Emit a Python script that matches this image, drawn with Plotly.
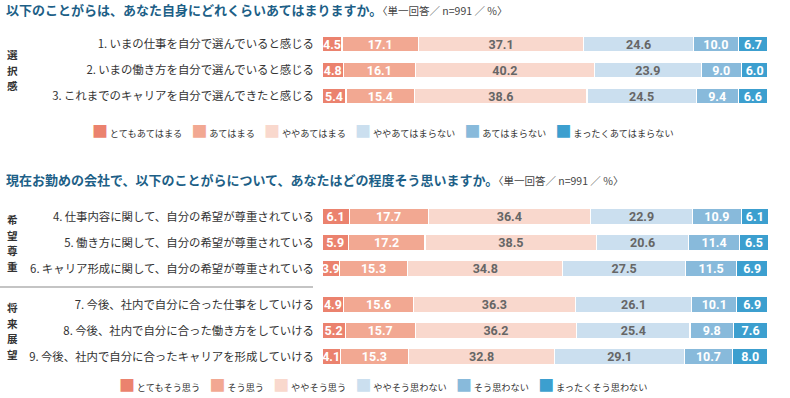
import plotly.graph_objects as go

W, H = 790, 398

# ---------------- data ----------------
q1_labels = [
    "1.\u2009いまの仕事を自分で選んでいると感じる",
    "2.\u2009いまの働き方を自分で選んでいると感じる",
    "3.\u2009これまでのキャリアを自分で選んできたと感じる",
]
q2_labels = [
    "4.\u2009仕事内容に関して、自分の希望が尊重されている",
    "5.\u2009働き方に関して、自分の希望が尊重されている",
    "6.\u2009キャリア形成に関して、自分の希望が尊重されている",
]
q3_labels = [
    "7.\u2009今後、社内で自分に合った仕事をしていける",
    "8.\u2009今後、社内で自分に合った働き方をしていける",
    "9.\u2009今後、社内で自分に合ったキャリアを形成していける",
]

legend1_names = ["とてもあてはまる", "あてはまる", "ややあてはまる",
                 "ややあてはまらない", "あてはまらない", "まったくあてはまらない"]
legend2_names = ["とてもそう思う", "そう思う", "ややそう思う",
                 "ややそう思わない", "そう思わない", "まったくそう思わない"]

# values per response category (rows in order of labels)
q1_values = [
    [4.5, 4.8, 5.4],
    [17.1, 16.1, 15.4],
    [37.1, 40.2, 38.6],
    [24.6, 23.9, 24.5],
    [10.0, 9.0, 9.4],
    [6.7, 6.0, 6.6],
]
q2_values = [
    [6.1, 5.9, 3.9],
    [17.7, 17.2, 15.3],
    [36.4, 38.5, 34.8],
    [22.9, 20.6, 27.5],
    [10.9, 11.4, 11.5],
    [6.1, 6.5, 6.9],
]
q3_values = [
    [4.9, 5.2, 4.1],
    [15.6, 15.7, 15.3],
    [36.3, 36.2, 32.8],
    [26.1, 25.4, 29.1],
    [10.1, 9.8, 10.7],
    [6.9, 7.6, 8.0],
]

group_labels = ["選択感", "希望尊重", "将来展望"]

title1 = "以下のことがらは、あなた自身にどれくらいあてはまりますか。"
title2 = "現在お勤めの会社で、以下のことがらについて、あなたはどの程度そう思いますか。"
subtitle = "〈単一回答／ n=991 ／ %〉"

# ---------------- style ----------------
colors = ["#EB826E", "#F2A892", "#F9D8CD", "#CBDFEF", "#88BADB", "#3C9FCF"]
text_colors = ["white", "white", "#666666", "#666666", "white", "white"]
JP = "Noto Sans CJK JP"
NUM = "Roboto"

fig = go.Figure()

groups = [
    (q1_labels, q1_values, "y", legend1_names),
    (q2_labels, q2_values, "y2", legend2_names),
    (q3_labels, q3_values, "y3", legend2_names),
]

for labels, values, yax, names in groups:
    for i, vals in enumerate(values):
        fig.add_trace(go.Bar(
            x=vals, y=labels, orientation="h",
            name=names[i],
            xaxis="x", yaxis=yax,
            marker=dict(color=colors[i], line=dict(color="white", width=1.2)),
            texttemplate="%{x:.1f}",
            textposition="inside",
            insidetextanchor="middle",
            constraintext="none",
            textangle=0,
            textfont=dict(family=NUM, size=12.5, color=text_colors[i], weight="bold"),
            showlegend=False,
            hoverinfo="skip",
        ))

def ydom(top_px, bot_px):
    return [1 - bot_px / H, 1 - top_px / H]

yax_common = dict(
    type="category", autorange="reversed", showgrid=False, zeroline=False,
    showline=False, ticks="", ticklabelstandoff=7, automargin=False,
    tickfont=dict(family=JP, size=11.4, color="#333333"),
    anchor="x",
)

fig.update_layout(
    width=W, height=H,
    margin=dict(l=0, r=0, t=0, b=0, autoexpand=False),
    paper_bgcolor="white", plot_bgcolor="white",
    barmode="stack", bargap=0.38,
    font=dict(family=JP, color="#333333"),
    xaxis=dict(domain=[322 / W, 768 / W], range=[0, 100], visible=False,
               fixedrange=True, anchor="y", automargin=False),
    yaxis=dict(domain=ydom(31, 109), **yax_common),
    yaxis2=dict(domain=ydom(203.5, 282), **yax_common),
    yaxis3=dict(domain=ydom(291.5, 370), **yax_common),
    showlegend=False,
)

# titles
sub_span = "<span style='font-size:10.5px;color:#444444;font-weight:normal'>" + subtitle + "</span>"
for t, ypx in [(title1, 9), (title2, 180)]:
    fig.add_annotation(
        text="<b>" + t + "</b>" + sub_span,
        xref="paper", yref="paper", x=4 / W, y=1 - ypx / H,
        xanchor="left", yanchor="middle", showarrow=False,
        font=dict(family=JP, size=13, color="#1D5F87"),
    )

# vertical group labels, one character per line
STEP = 15.5
for lab, yref in zip(group_labels, ["y domain", "y2 domain", "y3 domain"]):
    n = len(lab)
    for k, ch in enumerate(lab):
        fig.add_annotation(
            text="<b>" + ch + "</b>", xref="paper", yref=yref,
            x=12 / W, y=0.5, yshift=((n - 1) / 2 - k) * STEP,
            xanchor="center", yanchor="middle", showarrow=False, borderpad=0,
            font=dict(family=JP, size=10.6, color="#333333"),
        )

# legends (coloured square + label, flowing like the original)
def legend_text(names):
    parts = []
    for c, nm in zip(colors, names):
        parts.append("<span style='color:%s;font-size:16px'>■</span>\u2009%s" % (c, nm))
    return "\u2003".join(parts)

fig.add_annotation(
    text=legend_text(legend1_names), xref="paper", yref="paper",
    x=383 / W, y=1 - 130 / H, xanchor="center", yanchor="middle",
    showarrow=False, borderpad=0,
    font=dict(family=JP, size=9.2, color="#333333"),
)
fig.add_annotation(
    text=legend_text(legend2_names), xref="paper", yref="paper",
    x=383 / W, y=1.5 / H, xanchor="center", yanchor="bottom",
    showarrow=False, borderpad=0,
    font=dict(family=JP, size=9.2, color="#333333"),
)

# separator line between the two sub-groups of the second question
fig.add_shape(type="line", xref="paper", yref="paper",
              x0=0, x1=313 / W, y0=1 - 287 / H, y1=1 - 287 / H,
              line=dict(color="#8a8a8a", width=1.2))

fig.write_html("out.html", config={"displayModeBar": False},
               post_script="document.body.style.margin='0px';")
